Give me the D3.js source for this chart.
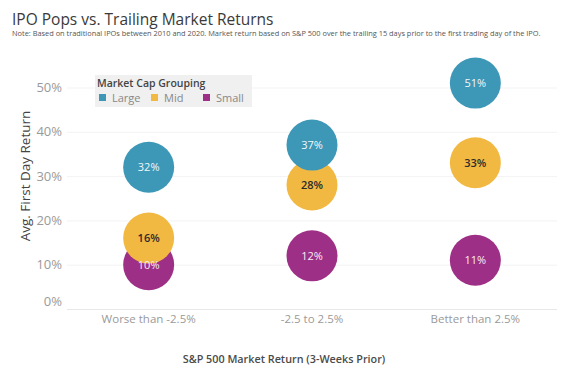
<!DOCTYPE html>
<html>
<head>
<meta charset="utf-8">
<script src="https://cdn.jsdelivr.net/npm/d3@7"></script>
<style>
  body { margin: 0; background: #fff; }
  text { font-family: "Open Sans", "Noto Sans", sans-serif; }
</style>
</head>
<body>
<div id="chart"></div>
<script>
// chart data
var categories = ["Worse than -2.5%", "-2.5 to 2.5%", "Better than 2.5%"];
var groups = ["Small", "Mid", "Large"]; // draw order: small first, large on top
var legendGroups = ["Large", "Mid", "Small"];
var largeValues = [32, 37, 51];
var midValues = [16, 28, 33];
var smallValues = [10, 12, 11];
var yTicks = [0, 10, 20, 30, 40, 50];

var width = 565, height = 367;
var margin = { left: 67, right: 8, top: 58, bottom: 58 };

var colors = { Large: "#3d97b7", Mid: "#f2b942", Small: "#9e2f86" };
var labelColors = { Large: "#f4f8fa", Mid: "#2b2b2b", Small: "#f8eef5" };
var seriesValues = { Large: largeValues, Mid: midValues, Small: smallValues };

var svg = d3.select("#chart").append("svg")
    .attr("width", width)
    .attr("height", height);

var x = d3.scaleBand()
    .domain(categories)
    .range([margin.left, width - margin.right]);

var y = d3.scaleLinear()
    .domain([0, 50])
    .range([309, 87.5]);

// title + note
svg.append("text")
    .attr("x", 12).attr("y", 25)
    .attr("font-size", 15.5)
    .attr("font-weight", 500)
    .attr("fill", "#3a3a3a")
    .text("IPO Pops vs. Trailing Market Returns");

svg.append("text")
    .attr("x", 12).attr("y", 36)
    .attr("font-size", 7.4)
    .attr("fill", "#555")
    .text("Note: Based on traditional IPOs between 2010 and 2020. Market return based on S&P 500 over the trailing 15 days prior to the first trading day of the IPO.");

// gridlines
var grid = svg.append("g");
grid.selectAll("line")
    .data(yTicks)
    .enter().append("line")
    .attr("x1", margin.left)
    .attr("x2", width - margin.right)
    .attr("y1", function(d) { return y(d) + 0.5; })
    .attr("y2", function(d) { return y(d) + 0.5; })
    .attr("stroke", function(d) { return d === 0 ? "#e8e8e8" : "#f3f3f3"; })
    .attr("stroke-width", 1);

// y axis
var yAxis = d3.axisLeft(y)
    .tickValues(yTicks)
    .tickSize(0)
    .tickPadding(5)
    .tickFormat(function(d) { return d + "%"; });

var yg = svg.append("g")
    .attr("transform", "translate(" + margin.left + ",0)")
    .call(yAxis);
yg.select(".domain").remove();
yg.selectAll("text")
    .attr("font-size", 13)
    .attr("fill", "#9a9a9a")
    .attr("dy", function(d) { return d === 0 ? "-0.3em" : "0.32em"; });

// x axis
var xAxis = d3.axisBottom(x).tickSize(0).tickPadding(6);
var xg = svg.append("g")
    .attr("transform", "translate(0," + 309 + ")")
    .call(xAxis);
xg.select(".domain").remove();
xg.selectAll("text")
    .attr("font-size", 11.5)
    .attr("fill", "#9a9a9a");

// axis titles
svg.append("text")
    .attr("transform", "translate(30,176) rotate(-90)")
    .attr("text-anchor", "middle")
    .attr("font-size", 13.5)
    .attr("fill", "#444")
    .text("Avg. First Day Return");

svg.append("text")
    .attr("x", 284).attr("y", 363)
    .attr("text-anchor", "middle")
    .attr("font-size", 10.8)
    .attr("font-weight", 600)
    .attr("fill", "#4a4a4a")
    .text("S&P 500 Market Return (3-Weeks Prior)");

// bubbles
var points = [];
groups.forEach(function(g) {
    categories.forEach(function(c, i) {
        points.push({ group: g, category: c, value: seriesValues[g][i] });
    });
});

var cx = function(d) { return x(d.category) + x.bandwidth() / 2; };

svg.append("g").selectAll("circle")
    .data(points)
    .enter().append("circle")
    .attr("cx", cx)
    .attr("cy", function(d) { return y(d.value); })
    .attr("r", 25.5)
    .attr("fill", function(d) { return colors[d.group]; });

svg.append("g").selectAll("text")
    .data(points)
    .enter().append("text")
    .attr("x", cx)
    .attr("y", function(d) { return y(d.value); })
    .attr("dy", "0.35em")
    .attr("text-anchor", "middle")
    .attr("font-size", 11)
    .attr("font-weight", function(d) { return d.group === "Mid" ? 600 : 400; })
    .attr("fill", function(d) { return labelColors[d.group]; })
    .text(function(d) { return d.value + "%"; });

// legend
var legend = svg.append("g").attr("transform", "translate(95,75)");
legend.append("rect")
    .attr("width", 157).attr("height", 32)
    .attr("fill", "#f0f0f0");
legend.append("text")
    .attr("x", 2).attr("y", 12)
    .attr("font-size", 10.5)
    .attr("font-weight", 600)
    .attr("fill", "#444")
    .text("Market Cap Grouping");

var legendX = d3.scaleOrdinal().domain(legendGroups).range([4, 56, 108]);
var item = legend.selectAll(".item")
    .data(legendGroups)
    .enter().append("g")
    .attr("transform", function(d) { return "translate(" + legendX(d) + ",19)"; });
item.append("rect")
    .attr("width", 7).attr("height", 7)
    .attr("fill", function(d) { return colors[d]; });
item.append("text")
    .attr("x", 13).attr("y", 8)
    .attr("font-size", 11)
    .attr("fill", "#888")
    .text(function(d) { return d; });
</script>
</body>
</html>
